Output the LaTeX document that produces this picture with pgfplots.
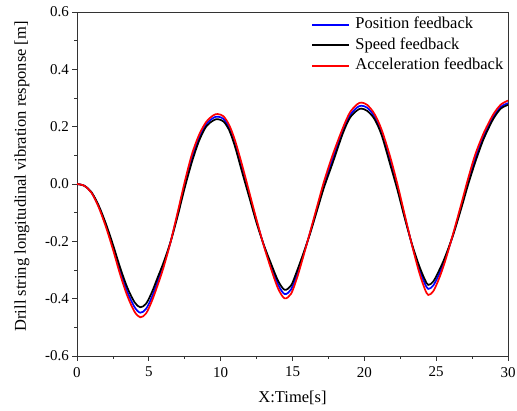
\documentclass[border=0pt]{standalone}
\usepackage{fontspec}
\setmainfont{Liberation Serif}
\usepackage{pgfplots}
\pgfplotsset{compat=1.18}
\usepackage{pgfplotstable}

\pgfplotstableread{
t pos spd acc
0.0 0.000 0.000 0.000
0.5 -0.006 -0.006 -0.006
1.0 -0.029 -0.028 -0.030
1.5 -0.077 -0.074 -0.080
2.0 -0.142 -0.137 -0.148
2.5 -0.219 -0.211 -0.228
3.0 -0.303 -0.291 -0.315
3.5 -0.376 -0.361 -0.390
4.0 -0.429 -0.412 -0.445
4.4 -0.449 -0.430 -0.465
4.8 -0.436 -0.418 -0.452
5.2 -0.396 -0.379 -0.410
5.6 -0.342 -0.328 -0.355
6.0 -0.286 -0.277 -0.295
6.5 -0.204 -0.204 -0.205
7.0 -0.106 -0.113 -0.100
7.5 -0.002 -0.013 0.008
8.0 0.090 0.077 0.104
8.5 0.161 0.151 0.172
9.0 0.209 0.201 0.217
9.5 0.231 0.222 0.240
9.8 0.235 0.226 0.244
10.2 0.227 0.218 0.236
10.6 0.196 0.187 0.205
11.0 0.140 0.130 0.152
11.5 0.053 0.040 0.065
12.0 -0.039 -0.048 -0.030
12.5 -0.130 -0.136 -0.125
13.0 -0.213 -0.212 -0.215
13.5 -0.286 -0.277 -0.295
14.0 -0.351 -0.338 -0.365
14.45 -0.384 -0.369 -0.399
14.9 -0.368 -0.354 -0.383
15.3 -0.317 -0.305 -0.330
15.7 -0.256 -0.250 -0.262
16.2 -0.174 -0.177 -0.172
16.8 -0.070 -0.077 -0.062
17.2 0.000 -0.011 0.010
17.8 0.088 0.074 0.102
18.5 0.186 0.176 0.195
19.0 0.240 0.231 0.250
19.5 0.267 0.257 0.278
19.8 0.273 0.263 0.284
20.2 0.266 0.255 0.276
20.7 0.236 0.227 0.245
21.2 0.180 0.171 0.190
21.8 0.081 0.068 0.095
22.3 -0.010 -0.020 0.000
22.8 -0.111 -0.117 -0.105
23.3 -0.209 -0.207 -0.210
23.8 -0.293 -0.283 -0.305
24.2 -0.346 -0.332 -0.365
24.45 -0.366 -0.352 -0.387
24.8 -0.354 -0.340 -0.374
25.2 -0.315 -0.302 -0.330
25.6 -0.265 -0.257 -0.273
26.2 -0.173 -0.175 -0.170
26.8 -0.068 -0.076 -0.060
27.2 0.004 -0.006 0.015
27.7 0.086 0.073 0.100
28.2 0.154 0.144 0.165
28.5 0.188 0.179 0.198
29.0 0.236 0.229 0.245
29.5 0.269 0.263 0.277
30.0 0.282 0.276 0.291
}\datatab

\begin{document}
\begin{tikzpicture}
\begin{axis}[
  width=431pt, height=344pt, scale only axis,
  xmin=0, xmax=30, ymin=-0.6, ymax=0.6,
  xtick={0,5,10,15,20,25,30},
  ytick={-0.6,-0.4,-0.2,0,0.2,0.4,0.6},
  minor x tick num=1, minor y tick num=1,
  tick align=outside, xtick pos=lower, ytick pos=left,
  major tick length=4.5pt, minor tick length=2.5pt,
  axis line style={line width=0.9pt, black!80},
  every tick/.style={line width=0.8pt, black!80},
  ticklabel style={font=\fontsize{15}{18}\selectfont},
  /pgf/number format/assume math mode=true,
  xticklabel={\pgfmathprintnumber{\tick}},
  yticklabel={\pgfmathprintnumber{\tick}},
  xticklabel style={yshift=-3pt},
  yticklabel style={/pgf/number format/fixed, /pgf/number format/fixed zerofill, /pgf/number format/precision=1},
  label style={font=\fontsize{16.5}{20}\selectfont},
  xlabel={X:Time[s]},
  ylabel={Drill string longitudinal vibration response [m]},
  xlabel style={at={(axis description cs:0.5,-0.122)}, anchor=center},
  ylabel style={at={(axis description cs:-0.1276,0.522)}, anchor=center},
  legend cell align=left,
  legend style={at={(1,1)}, anchor=north east, xshift=-2pt, yshift=-2.5pt,
    draw=none, fill=none,
    font=\fontsize{16.5}{20}\selectfont, inner sep=0pt, row sep=0.5pt,
    nodes={inner sep=2.5pt, text height=11.5pt, text depth=3.5pt},
    /tikz/every odd column/.append style={column sep=3pt}},
  legend image code/.code={\draw[#1] (0pt,0pt) -- (37pt,0pt);},
]
\addplot[blue, line width=1.7pt, smooth] table[x=t, y=pos]{\datatab};
\addlegendentry{Position feedback}
\addplot[black, line width=1.7pt, smooth] table[x=t, y=spd]{\datatab};
\addlegendentry{Speed feedback}
\addplot[red, line width=1.7pt, smooth] table[x=t, y=acc]{\datatab};
\addlegendentry{Acceleration feedback}
\coordinate (ll) at (rel axis cs:0,0);
\coordinate (ur) at (rel axis cs:1,1);
\end{axis}
\pgfresetboundingbox
\path ([shift={(-77pt,-54pt)}]ll) rectangle ([shift={(9pt,12pt)}]ur);
\end{tikzpicture}
\end{document}
